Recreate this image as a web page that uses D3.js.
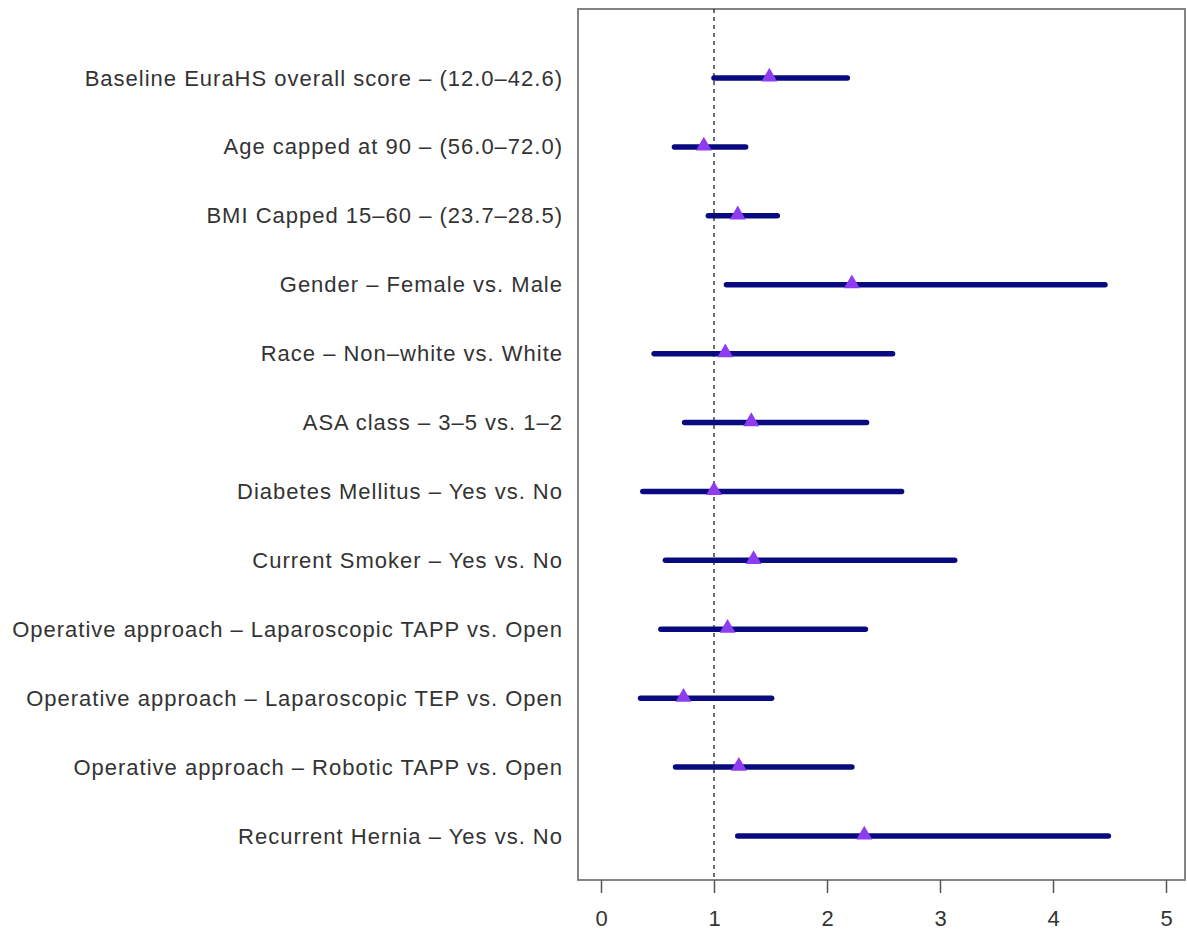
<!DOCTYPE html>
<html>
<head>
<meta charset="utf-8">
<script src="https://cdn.jsdelivr.net/npm/d3@7"></script>
<style>
  body { margin: 0; background: #fff; }
  svg text { font-family: "Liberation Sans", Arial, sans-serif; fill: #222; }
</style>
</head>
<body>
<div id="chart"></div>
<script>
/*
    forest plot: odds ratios with confidence intervals
 */

var labels = [
    "Baseline EuraHS overall score \u2013 (12.0\u201342.6)",
    "Age capped at 90 \u2013 (56.0\u201372.0)",
    "BMI Capped 15\u201360 \u2013 (23.7\u201328.5)",
    "Gender \u2013 Female vs. Male",
    "Race \u2013 Non\u2013white vs. White",
    "ASA class \u2013 3\u20135 vs. 1\u20132",
    "Diabetes Mellitus \u2013 Yes vs. No",
    "Current Smoker \u2013 Yes vs. No",
    "Operative approach \u2013 Laparoscopic TAPP vs. Open",
    "Operative approach \u2013 Laparoscopic TEP vs. Open",
    "Operative approach \u2013 Robotic TAPP vs. Open",
    "Recurrent Hernia \u2013 Yes vs. No"
];
var estimate = [1.49, 0.91, 1.21, 2.22, 1.10, 1.33, 1.00, 1.35, 1.12, 0.73, 1.22, 2.33];
var lower    = [1.00, 0.65, 0.95, 1.11, 0.47, 0.74, 0.37, 0.57, 0.53, 0.35, 0.66, 1.21];
var upper    = [2.18, 1.28, 1.56, 4.46, 2.58, 2.35, 2.66, 3.13, 2.34, 1.51, 2.22, 4.49];
var x_ticks  = [0, 1, 2, 3, 4, 5];
var ref_value = 1;

var svg_size = {'width': 1187, 'height': 938};
var box = {'left': 578, 'right': 1185, 'top': 9, 'bottom': 880};
var font_size = 22;

var svg = d3.select("#chart")
    .append("svg")
    .attr('width', svg_size.width)
    .attr('height', svg_size.height);

var x_scale = d3.scaleLinear()
    .domain([0, 5])
    .range([601, 1166]);

var y_scale = d3.scaleLinear()
    .domain([0, labels.length - 1])
    .range([78, 836]);

// plot box
svg.append('rect')
    .attr('x', box.left)
    .attr('y', box.top)
    .attr('width', box.right - box.left)
    .attr('height', box.bottom - box.top)
    .style('fill', 'none')
    .style('stroke', '#777')
    .style('stroke-width', 1.8);

// reference line
svg.append('line')
    .attr('x1', x_scale(ref_value))
    .attr('x2', x_scale(ref_value))
    .attr('y1', box.top)
    .attr('y2', box.bottom)
    .style('stroke', '#222')
    .style('stroke-width', 1.3)
    .style('stroke-dasharray', '4,4');

// x axis
var x_axis = d3.axisBottom(x_scale)
    .tickValues(x_ticks)
    .tickFormat(d3.format('d'))
    .tickSizeInner(13)
    .tickSizeOuter(0)
    .tickPadding(17);

var axis_group = svg.append('g')
    .attr('transform', 'translate(0,' + box.bottom + ')')
    .call(x_axis);
axis_group.select('.domain').remove();
axis_group.selectAll('line').style('stroke', '#555').style('stroke-width', 1.5);
axis_group.selectAll('text')
    .style('font-size', font_size + 'px')
    .style('font-family', '"Liberation Sans", Arial, sans-serif')
    .style('fill', '#333');

// row labels
svg.append('g').selectAll('.row-label')
    .data(labels)
    .enter()
    .append('text')
    .classed('row-label', true)
    .attr('x', 563)
    .attr('y', function(d, i){ return y_scale(i); })
    .attr('text-anchor', 'end')
    .attr('dominant-baseline', 'central')
    .style('font-size', font_size + 'px')
    .style('letter-spacing', '1px')
    .style('fill', '#333')
    .text(function(d){ return d; });

// confidence intervals
svg.append('g').selectAll('.ci')
    .data(labels)
    .enter()
    .append('line')
    .classed('ci', true)
    .attr('x1', function(d, i){ return x_scale(lower[i]); })
    .attr('x2', function(d, i){ return x_scale(upper[i]); })
    .attr('y1', function(d, i){ return y_scale(i); })
    .attr('y2', function(d, i){ return y_scale(i); })
    .style('stroke', '#0a0a80')
    .style('stroke-width', 5.5)
    .style('stroke-linecap', 'round');

// point estimates
var tri = d3.symbol().type(d3.symbolTriangle).size(110);
svg.append('g').selectAll('.est')
    .data(labels)
    .enter()
    .append('path')
    .classed('est', true)
    .attr('d', tri)
    .attr('transform', function(d, i){
        return 'translate(' + x_scale(estimate[i]) + ',' + (y_scale(i) - 1) + ')';
    })
    .style('fill', '#8e3cf0');
</script>
</body>
</html>
